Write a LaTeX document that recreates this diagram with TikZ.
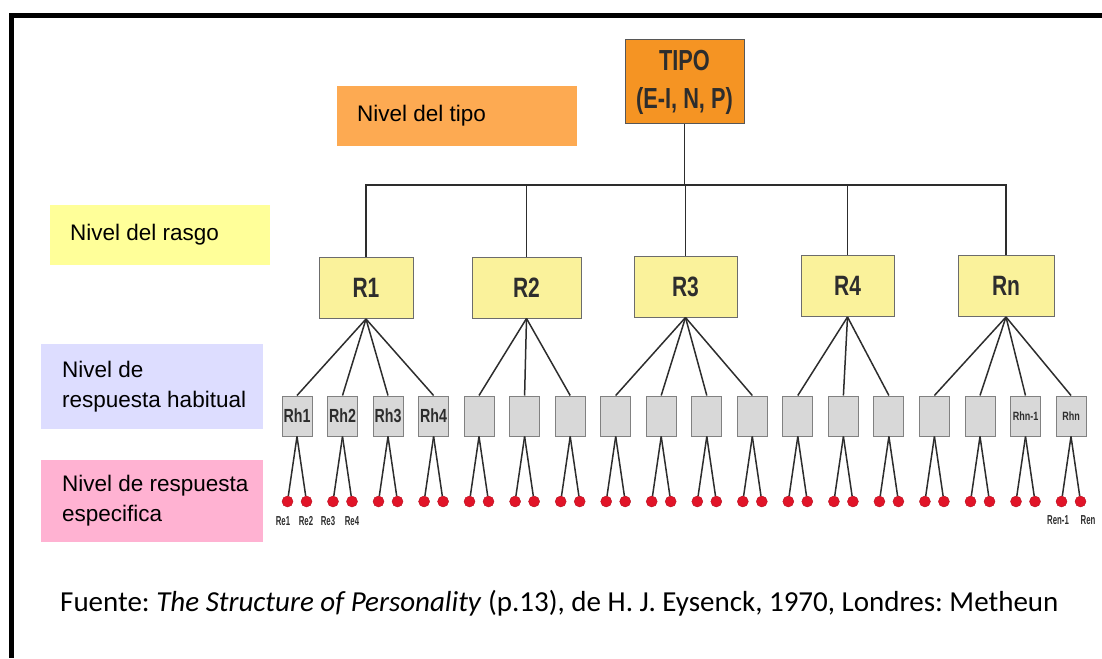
\documentclass[tikz,border=0pt]{standalone}
\usepackage{fontspec}
\setmainfont{Liberation Sans}
\newfontfamily\capfont{Carlito}
\newfontfamily\boxfont[FakeStretch=0.75]{Liberation Sans}
\newfontfamily\tinyfont[FakeStretch=0.6]{Liberation Sans}
\frenchspacing

\definecolor{tipofill}{RGB}{245,148,35}
\definecolor{tipolvl}{RGB}{253,170,82}
\definecolor{rasgolvl}{RGB}{255,255,153}
\definecolor{rasgofill}{RGB}{250,242,155}
\definecolor{habitlvl}{RGB}{221,221,255}
\definecolor{especlvl}{RGB}{255,178,210}
\definecolor{habitfill}{RGB}{216,216,216}
\definecolor{dotred}{RGB}{225,20,40}
\definecolor{ink}{RGB}{45,45,45}

\tikzset{
  lvlbox/.style={rectangle, anchor=north west, inner sep=0pt, outer sep=0pt},
  lvltext/.style={anchor=west, inner sep=0pt, align=left,
    font=\fontsize{22.5}{30}\selectfont},
  link/.style={draw=ink, line width=1.5pt},
  tipobox/.style={rectangle, draw=ink!80, fill=tipofill, line width=1pt,
    minimum width=119pt, minimum height=84pt, align=center, text=ink,
    font=\boxfont\bfseries\fontsize{29}{38}\selectfont},
  rasgobox/.style={rectangle, draw=ink!70, fill=rasgofill, line width=1pt,
    minimum height=61pt, text=ink, font=\boxfont\bfseries\fontsize{28}{28}\selectfont},
  habitbox/.style={rectangle, draw=ink!60, fill=habitfill, line width=1pt,
    minimum width=30pt, minimum height=40pt, inner sep=0pt, text=ink,
    font=\boxfont\bfseries\fontsize{19}{19}\selectfont},
  reddot/.style={circle, fill=dotred, draw=dotred!80!black, line width=0.4pt,
    minimum size=11pt, inner sep=0pt},
  relabel/.style={text=ink, inner sep=0pt, font=\tinyfont\bfseries\fontsize{13}{13}\selectfont}
}

\begin{document}
\begin{tikzpicture}[x=1pt,y=-1pt]
\useasboundingbox (0,0) rectangle (1102,658);
% Frame
\draw [line width=5pt] (1102,15.5) -- (11.5,15.5) -- (11.5,658);
% Level labels
\node [lvlbox, fill=tipolvl, minimum width=240pt, minimum height=60pt] (lvtipo) at (337,86) {};
\node [lvltext] at ([xshift=20pt]lvtipo.west) {Nivel del tipo};
\node [lvlbox, fill=rasgolvl, minimum width=220pt, minimum height=60pt] (lvrasgo) at (50,205) {};
\node [lvltext] at ([xshift=20pt]lvrasgo.west) {Nivel del rasgo};
\node [lvlbox, fill=habitlvl, minimum width=222pt, minimum height=85pt] (lvhabit) at (41,344) {};
\node [lvltext] at ([xshift=21pt]lvhabit.west) {Nivel de\\respuesta habitual};
\node [lvlbox, fill=especlvl, minimum width=222pt, minimum height=82pt] (lvespec) at (41,460) {};
\node [lvltext] at ([xshift=21pt]lvespec.west) {Nivel de respuesta\\especifica};
% Type
\node [tipobox] (tipo) at (684.5,82) {TIPO\\(E-I, N, P)};
% Traits
\node [rasgobox, minimum width=94pt] (R1) at (366,288) {R1};
\node [rasgobox, minimum width=109pt] (R2) at (526.5,287.5) {R2};
\node [rasgobox, minimum width=103pt] (R3) at (685.5,286.5) {R3};
\node [rasgobox, minimum width=93pt] (R4) at (847.5,286) {R4};
\node [rasgobox, minimum width=96pt] (Rn) at (1006,286) {Rn};
% Bus from type to traits
\coordinate (bus) at (0,185);
\draw [link] (tipo.south) -- (tipo.south |- bus);
\draw [link] (R1.north) -- (R1.north |- bus) -| (Rn.north);
\draw [link] (R2.north) -- (R2.north |- bus);
\draw [link] (R3.north) -- (R3.north |- bus);
\draw [link] (R4.north) -- (R4.north |- bus);
% Habitual responses
\node [habitbox] (h1) at (297,416) {Rh1};
\node [habitbox] (h2) at (342.5,416) {Rh2};
\node [habitbox] (h3) at (388,416) {Rh3};
\node [habitbox] (h4) at (433.6,416) {Rh4};
\node [habitbox] (h5) at (479,416) {};
\node [habitbox] (h6) at (524.6,416) {};
\node [habitbox] (h7) at (570.2,416) {};
\node [habitbox] (h8) at (615.7,416) {};
\node [habitbox] (h9) at (661.2,416) {};
\node [habitbox] (h10) at (706.8,416) {};
\node [habitbox] (h11) at (752.3,416) {};
\node [habitbox] (h12) at (797.8,416) {};
\node [habitbox] (h13) at (843.4,416) {};
\node [habitbox] (h14) at (888.9,416) {};
\node [habitbox] (h15) at (934.4,416) {};
\node [habitbox] (h16) at (980,416) {};
\node [habitbox, font=\boxfont\bfseries\fontsize{12}{12}\selectfont] (h17) at (1025.5,416) {Rhn-1};
\node [habitbox, font=\boxfont\bfseries\fontsize{12}{12}\selectfont] (h18) at (1071,416) {Rhn};
% Trait -- habitual
\foreach \h in {1,...,4} \draw [link] (R1.south) -- (h\h.north);
\foreach \h in {5,...,7} \draw [link] (R2.south) -- (h\h.north);
\foreach \h in {8,...,11} \draw [link] (R3.south) -- (h\h.north);
\foreach \h in {12,...,14} \draw [link] (R4.south) -- (h\h.north);
\foreach \h in {15,...,18} \draw [link] (Rn.south) -- (h\h.north);
% Specific responses
\foreach \h in {1,...,18} {
  \node [reddot] (dot\h-1) at ([xshift=-9.5pt,yshift=-65pt]h\h.south) {};
  \node [reddot] (dot\h-2) at ([xshift=9.5pt,yshift=-65pt]h\h.south) {};
  \draw [link] (h\h.south) -- (dot\h-1);
  \draw [link] (h\h.south) -- (dot\h-2);
}
% Labels under the dots
\node [relabel] (re1) at (283,521) {Re1};
\node [relabel] (re2) at (306,521) {Re2};
\node [relabel] (re3) at (328,521) {Re3};
\node [relabel] (re4) at (352,521) {Re4};
\node [relabel] (ren1) at (1058,520) {Ren-1};
\node [relabel] (ren) at (1088,520) {Ren};
% Source
\node [anchor=base west, inner sep=0pt, font=\capfont\fontsize{29}{33}\selectfont] (fuente) at (60,611)
  {Fuente: \textit{The Structure of Personality} (p.13), de H. J. Eysenck, 1970, Londres: Metheun};
\end{tikzpicture}
\end{document}
